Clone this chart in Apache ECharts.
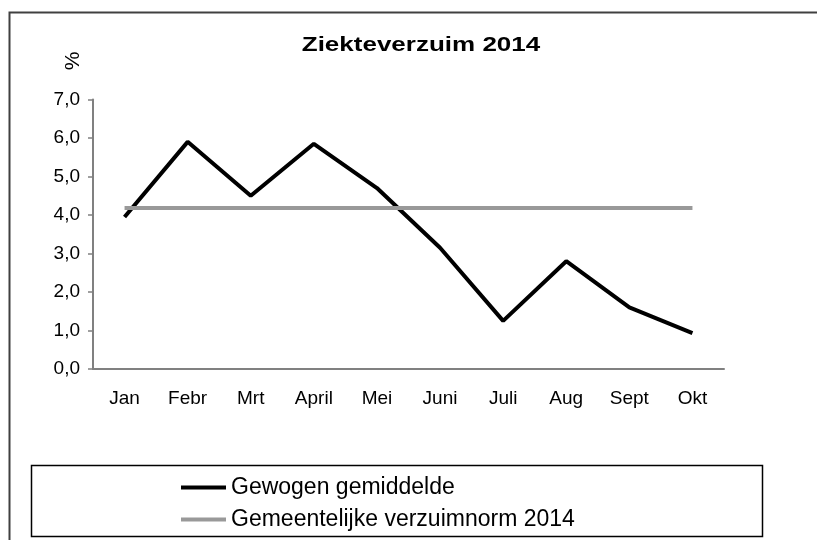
<!DOCTYPE html>
<html>
<head>
<meta charset="utf-8">
<script src="https://cdn.jsdelivr.net/npm/echarts@6/dist/echarts.min.js"></script>
<style>
  html, body { margin: 0; padding: 0; background: #fff; }
  #chart { width: 817px; height: 540px; }
</style>
</head>
<body>
<div id="chart"></div>
<script>
  // maanden
  const months = ['Jan', 'Febr', 'Mrt', 'April', 'Mei', 'Juni', 'Juli', 'Aug', 'Sept', 'Okt'];
  // Gewogen gemiddelde (%)
  const weighted = [3.95, 5.9, 4.5, 5.85, 4.7, 3.15, 1.25, 2.8, 1.6, 0.93];
  // Gemeentelijke verzuimnorm 2014 (%)
  const norm = [4.18, 4.18, 4.18, 4.18, 4.18, 4.18, 4.18, 4.18, 4.18, 4.18];

  const fmt = v => v.toFixed(1).replace('.', ',');
  const font = 'Liberation Sans, Arial, sans-serif';

  let myChart = echarts.init(document.getElementById('chart'));
  myChart.setOption({
    animation: false,
    textStyle: { fontFamily: font },
    legend: {
      orient: 'vertical',
      left: 176,
      top: 471,
      itemWidth: 45,
      itemHeight: 4,
      itemGap: 9,
      icon: 'rect',
      textStyle: { fontSize: 23, lineHeight: 23, color: '#000', fontFamily: font, padding: [0, 0, 0, 0] },
      data: ['Gewogen gemiddelde', 'Gemeentelijke verzuimnorm 2014']
    },
    graphic: [
      { type: 'polyline', shape: { points: [[9.5, 560], [9.5, 12.5], [830, 12.5]] },
        style: { stroke: '#404040', lineWidth: 2, fill: null } },
      { type: 'rect', shape: { x: 31.5, y: 465.5, width: 731, height: 71 },
        style: { stroke: '#000', lineWidth: 1.5, fill: null } },
      { type: 'text', x: 421, y: 45, scaleX: 1.3,
        style: { text: 'Ziekteverzuim 2014', fontSize: 20, fontWeight: 'bold', fontFamily: font,
                 fill: '#000', align: 'center', verticalAlign: 'middle' } },
      { type: 'text', x: 73, y: 61, rotation: Math.PI / 2,
        style: { text: '%', fontSize: 21, fontFamily: font, fill: '#000', align: 'center', verticalAlign: 'middle' } }
    ],
    grid: { left: 93, right: 93, top: 99.5, bottom: 171 },
    xAxis: {
      type: 'category',
      data: months,
      axisLine: { lineStyle: { color: '#808080', width: 2 } },
      axisTick: { length: 5, lineStyle: { color: '#808080', width: 1.5 } },
      axisLabel: { color: '#000', fontSize: 19, margin: 20, fontFamily: font }
    },
    yAxis: {
      type: 'value',
      min: 0,
      max: 7,
      interval: 1,
      splitLine: { show: false },
      axisLine: { show: true, lineStyle: { color: '#808080', width: 2 } },
      axisTick: { show: true, length: 5, lineStyle: { color: '#808080', width: 1.5 } },
      axisLabel: { color: '#000', fontSize: 19, margin: 13, formatter: fmt, fontFamily: font }
    },
    series: [
      {
        name: 'Gewogen gemiddelde',
        type: 'line',
        data: weighted,
        symbol: 'none',
        color: '#000',
        lineStyle: { color: '#000', width: 4 }
      },
      {
        name: 'Gemeentelijke verzuimnorm 2014',
        type: 'line',
        data: norm,
        symbol: 'none',
        color: '#999',
        lineStyle: { color: '#999', width: 4 }
      }
    ]
  });
</script>
</body>
</html>
